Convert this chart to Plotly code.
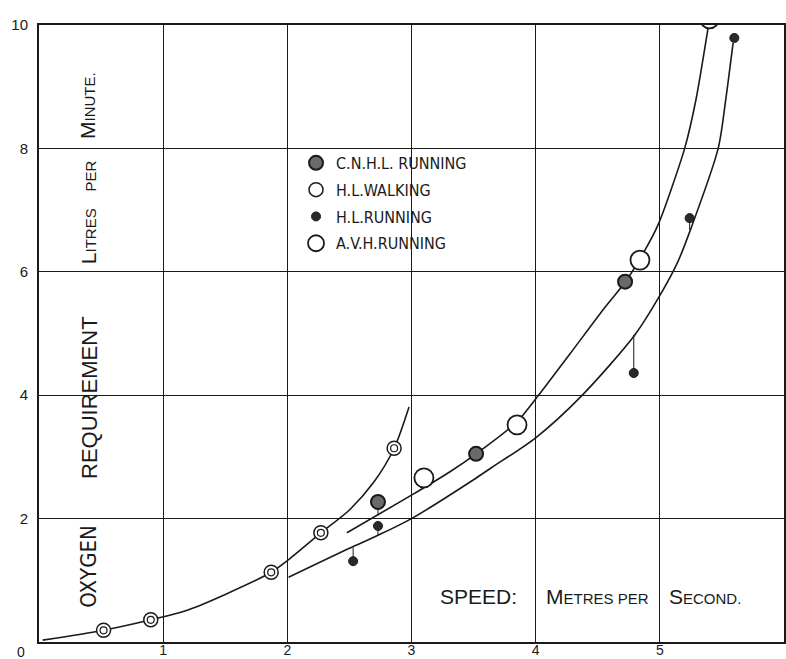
import plotly.graph_objects as go

# ---------------- data ----------------
# Observations
cnhl_x = [2.73, 3.52, 4.72]
cnhl_y = [2.27, 3.05, 5.84]

walk_x = [0.52, 0.90, 1.87, 2.27, 2.86]
walk_y = [0.19, 0.36, 1.13, 1.77, 3.14]

hlrun_x = [2.53, 2.73, 4.79, 5.24, 5.60]
hlrun_y = [1.31, 1.88, 4.36, 6.87, 9.79]

avh_x = [3.10, 3.85, 4.84, 5.40]
avh_y = [2.66, 3.52, 6.19, 10.10]

# Hand-drawn curves of the original
walk_curve_x = [0.03, 0.52, 0.90, 1.20, 1.50, 1.87, 2.00, 2.27, 2.50, 2.70, 2.86, 2.98]
walk_curve_y = [0.03, 0.19, 0.36, 0.52, 0.77, 1.13, 1.32, 1.77, 2.14, 2.60, 3.14, 3.81]

upper_curve_x = [2.48, 3.00, 3.31, 3.52, 3.85, 4.02, 4.28, 4.56, 4.72, 4.88, 4.99, 5.20, 5.29, 5.39]
upper_curve_y = [1.77, 2.38, 2.76, 3.05, 3.57, 3.99, 4.68, 5.43, 5.83, 6.35, 6.78, 8.00, 8.78, 9.97]

lower_curve_x = [2.01, 2.50, 2.73, 3.00, 3.50, 3.64, 4.00, 4.37, 4.80, 4.99, 5.14, 5.25, 5.47, 5.53, 5.59]
lower_curve_y = [1.05, 1.52, 1.73, 2.00, 2.63, 2.82, 3.31, 3.99, 4.98, 5.58, 6.14, 6.70, 8.00, 8.78, 9.71]

# Short connector strokes from points to curves
conn_x = [2.53, 2.73, 2.73, 4.79, 5.24]
conn_from = [1.31, 1.88, 2.27, 4.36, 6.87]
conn_to = [1.53, 1.73, 2.05, 4.98, 6.68]

x_ticks = [1, 2, 3, 4, 5, 6]
y_ticks = [2, 4, 6, 8, 10]

legend_names = ["C.N.H.L. RUNNING", "H.L.WALKING", "H.L.RUNNING", "A.V.H.RUNNING"]

# ---------------- figure ----------------
INK = "#1a1a1a"
fig = go.Figure()

for cx, cy, sm in [(walk_curve_x, walk_curve_y, 0.8), (upper_curve_x, upper_curve_y, 0.7),
                   (lower_curve_x, lower_curve_y, 0.8)]:
    fig.add_trace(go.Scatter(x=cx, y=cy, mode="lines",
                             line=dict(color=INK, width=1.6, shape="spline", smoothing=sm),
                             showlegend=False, hoverinfo="skip"))

cx_all, cy_all = [], []
for xv, a, b in zip(conn_x, conn_from, conn_to):
    cx_all += [xv, xv, None]
    cy_all += [a, b, None]
fig.add_trace(go.Scatter(x=cx_all, y=cy_all, mode="lines", line=dict(color=INK, width=1),
                         showlegend=False, hoverinfo="skip"))

fig.add_trace(go.Scatter(x=cnhl_x, y=cnhl_y, mode="markers", name=legend_names[0], legendgroup="a",
                         marker=dict(symbol="circle", size=14, color="#6a6a6a", line=dict(color=INK, width=2))))
fig.add_trace(go.Scatter(x=walk_x, y=walk_y, mode="markers", name=legend_names[1], legendgroup="b",
                         marker=dict(symbol="circle", size=14, color="white", line=dict(color=INK, width=1.5))))
fig.add_trace(go.Scatter(x=walk_x, y=walk_y, mode="markers", legendgroup="b", showlegend=False,
                         marker=dict(symbol="circle-open", size=7, color=INK, line=dict(color=INK, width=1.2))))
fig.add_trace(go.Scatter(x=hlrun_x, y=hlrun_y, mode="markers", name=legend_names[2], legendgroup="c",
                         marker=dict(symbol="circle", size=9, color="#2a2a2a", line=dict(color=INK, width=1))))
fig.add_trace(go.Scatter(x=avh_x, y=avh_y, mode="markers", name=legend_names[3], legendgroup="d",
                         marker=dict(symbol="circle", size=19, color="white", line=dict(color=INK, width=1.8))))

TXT = "Liberation Sans, Arial, sans-serif"
NARROW = "Liberation Sans Narrow, DejaVu Sans Condensed, Liberation Sans, sans-serif"

fig.update_layout(
    width=786, height=659,
    margin=dict(l=39, r=2, t=25, b=17),
    paper_bgcolor="white", plot_bgcolor="white",
    font=dict(family=TXT, color=INK),
    showlegend=True,
    legend=dict(x=0.345, y=0.804, xanchor="left", yanchor="top", bgcolor="rgba(0,0,0,0)",
                font=dict(family=NARROW, size=16, color=INK), traceorder="grouped", tracegroupgap=3,
                itemsizing="trace"),
    xaxis=dict(range=[0, 6], tickvals=x_ticks, ticktext=[str(v) for v in x_ticks],
               showgrid=True, gridcolor=INK, gridwidth=1, zeroline=False, automargin=False,
               showline=True, linecolor=INK, linewidth=2, mirror=True, ticks="",
               ticklabelstandoff=-6,
               tickfont=dict(size=14, family=TXT, color=INK)),
    yaxis=dict(range=[0, 10], tickvals=y_ticks, ticktext=[str(v) for v in y_ticks],
               showgrid=True, gridcolor=INK, gridwidth=1, zeroline=False, automargin=False,
               showline=True, linecolor=INK, linewidth=2, mirror=True, ticks="",
               ticklabelstandoff=6,
               tickfont=dict(size=15, family=TXT, color=INK)),
)

BIG = "font-size:21px"
annotations = [
    dict(text="0", xref="paper", yref="paper", x=0, y=0, xshift=-18, yshift=-10, showarrow=False,
         xanchor="center", yanchor="middle", font=dict(size=14, family=TXT)),
    # vertical axis title pieces
    dict(text="OXYGEN", xref="paper", yref="y", x=0.067, y=1.22,
         textangle=-90, showarrow=False, xanchor="center", yanchor="middle",
         font=dict(size=22, family=NARROW)),
    dict(text="REQUIREMENT", xref="paper", yref="y", x=0.067, y=3.97,
         textangle=-90, showarrow=False, xanchor="center", yanchor="middle",
         font=dict(size=22, family=TXT)),
    dict(text=f"<span style='{BIG}'>L</span>ITRES", xref="paper", yref="y", x=0.066, y=6.58,
         textangle=-90, showarrow=False, xanchor="center", yanchor="middle",
         font=dict(size=15, family=TXT)),
    dict(text="PER", xref="paper", yref="y", x=0.069, y=7.55,
         textangle=-90, showarrow=False, xanchor="center", yanchor="middle",
         font=dict(size=15, family=TXT)),
    dict(text=f"<span style='{BIG}'>M</span>INUTE.", xref="paper", yref="y", x=0.066, y=8.69,
         textangle=-90, showarrow=False, xanchor="center", yanchor="middle",
         font=dict(size=15, family=TXT)),
    # horizontal axis title pieces
    dict(text="SPEED:", xref="x", yref="y", x=3.54, y=0.74, showarrow=False,
         xanchor="center", yanchor="middle", font=dict(size=21, family=TXT)),
    dict(text=f"<span style='{BIG}'>M</span>ETRES PER", xref="x", yref="y", x=4.50, y=0.74,
         showarrow=False, xanchor="center", yanchor="middle", font=dict(size=15, family=TXT)),
    dict(text=f"<span style='{BIG}'>S</span>ECOND.", xref="x", yref="y", x=5.36, y=0.74,
         showarrow=False, xanchor="center", yanchor="middle", font=dict(size=15, family=TXT)),
]
fig.update_layout(annotations=annotations)

fig.write_html("out.html", config={"displayModeBar": False},
               post_script="document.body.style.margin='0px';document.body.style.overflow='hidden';")
